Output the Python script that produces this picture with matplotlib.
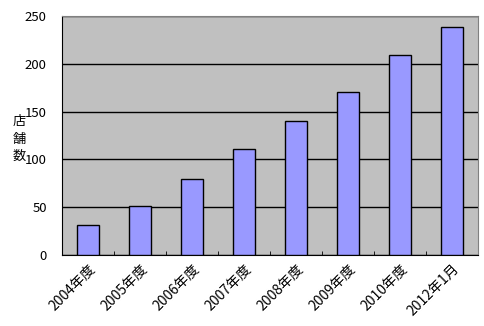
import matplotlib
matplotlib.use("Agg")
import matplotlib.pyplot as plt

plt.rcParams['font.family'] = ['Noto Sans CJK JP', 'DejaVu Sans']

categories = ["2004年度", "2005年度", "2006年度", "2007年度", "2008年度", "2009年度", "2010年度", "2012年1月"]
values = [31, 51, 80, 111, 140, 171, 209, 238]
yticks = [0, 50, 100, 150, 200, 250]

W, H = 484, 326
fig = plt.figure(figsize=(W/100, H/100), dpi=100)
ax = fig.add_axes([62/W, 1-255/H, (478-62)/W, (255-16)/H])
ax.set_facecolor('#C0C0C0')
x = list(range(len(categories)))
ax.bar(x, values, width=0.42, color='#9999FF', edgecolor='black', linewidth=1, zorder=3)
ax.set_xlim(-0.5, len(categories)-0.5)
ax.set_ylim(0, 250)
ax.set_yticks(yticks)
ax.set_yticklabels([str(v) for v in yticks], fontsize=9.5)
ax.yaxis.grid(True, color='black', linewidth=1, zorder=1)
ax.set_axisbelow(True)
ax.set_xticks(x)
ax.set_xticklabels(categories, rotation=45, ha='right', va='top', rotation_mode='anchor', fontsize=10)
ax.tick_params(axis='x', length=0, pad=5)
ax.set_xticks([i+0.5 for i in range(len(categories)-1)], minor=True)
ax.tick_params(axis='x', which='minor', length=3, direction='in')
ax.tick_params(axis='y', length=0, pad=11)
ax.spines['left'].set_color('black')
ax.spines['bottom'].set_color('black')
ax.spines['top'].set_color('#808080')
ax.spines['right'].set_color('#808080')
fig.text(19/W, 1-139/H, "店\n舗\n数", fontsize=9.5, ha='center', va='center', linespacing=1.45)
fig.savefig("out.png", dpi=100)
